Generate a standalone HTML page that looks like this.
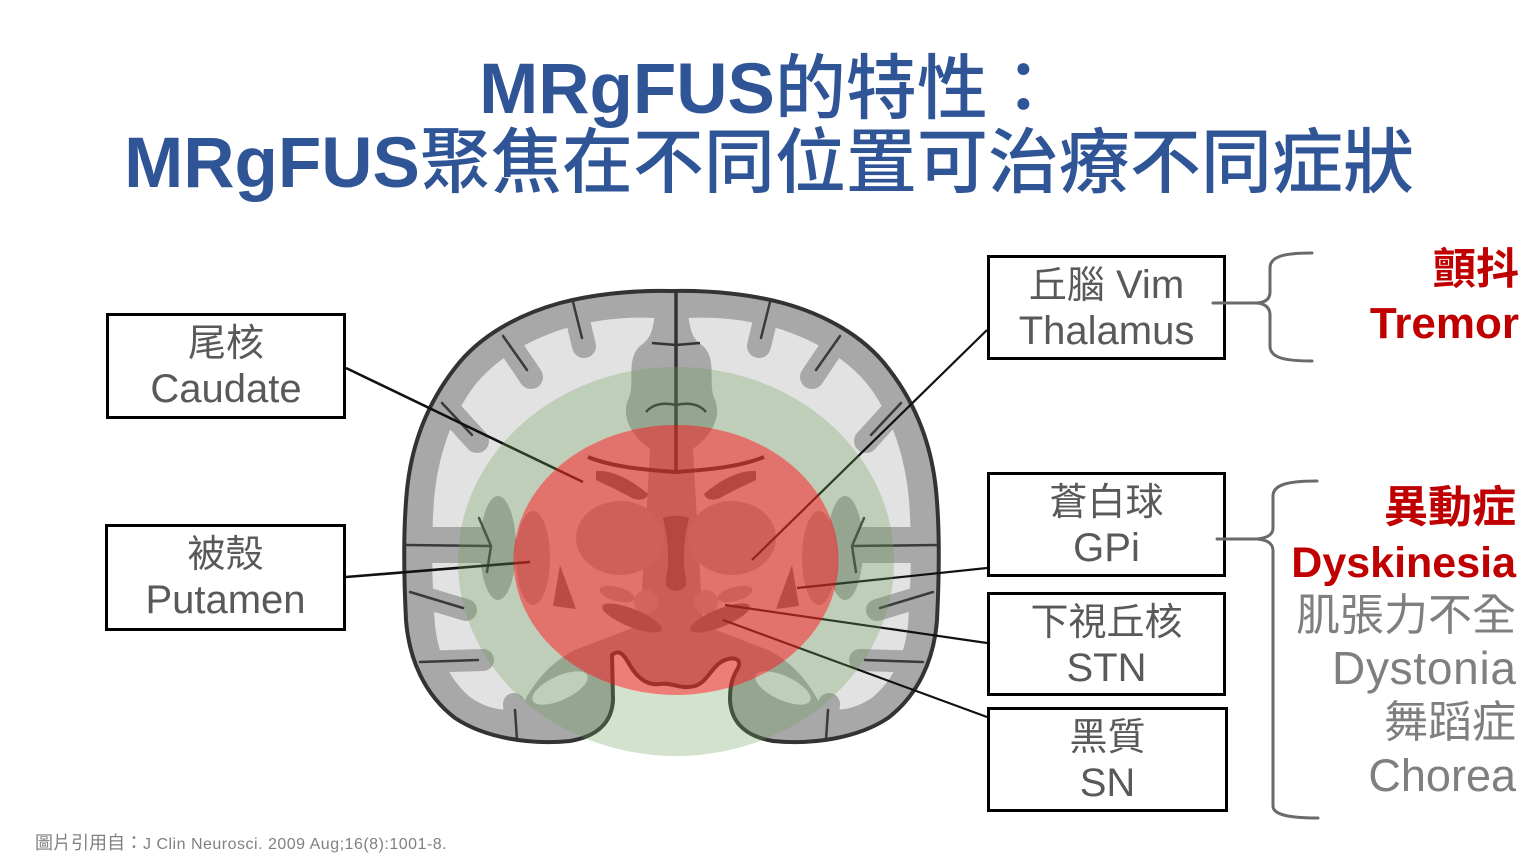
<!DOCTYPE html>
<html>
<head>
<meta charset="utf-8">
<style>
  html, body { margin:0; padding:0; background:#ffffff; }
  body { width:1536px; height:864px; position:relative; overflow:hidden; }
  svg text { font-family: "Liberation Sans", "Noto Sans CJK TC", sans-serif; }
</style>
</head>
<body>
<svg width="1536" height="864" viewBox="0 0 1536 864" xmlns="http://www.w3.org/2000/svg" style="position:absolute;left:0;top:0">
<defs>
  <path id="ol" d="M 671.5 291 C 630 290 590 295 560 303 C 520 314 480 335 455 368 C 430 400 412 440 407 490 C 403 530 404 580 406 620 C 409 660 425 695 455 718 C 485 738 530 745 570 741 C 600 736 612 720 613 700 L 612 655 C 618 650 622 652 628 662 C 635 675 645 686 660 684 C 672 682 680 690 695 686 C 708 682 712 665 725 660 C 735 656 742 660 738 668 C 732 678 730 685 730 700 C 731 720 743 736 773 741 C 813 745 858 738 888 718 C 918 695 934 660 937 620 C 939 580 940 530 936 490 C 931 440 913 400 888 368 C 863 335 823 314 783 303 C 753 295 713 290 671.5 291 Z"/>
  <clipPath id="bc"><use href="#ol"/></clipPath>
  <g id="lh">
    <path fill="#e2e2e2" d="M 655 318 C 620 316 585 322 560 330 C 525 342 495 360 475 385 C 452 415 438 455 434 500 C 431 540 432 585 435 625 C 438 655 450 680 470 697 C 488 710 510 713 522 706 C 530 690 545 665 575 650 L 640 625 L 650 450 Z"/>
    <ellipse cx="560" cy="688" rx="30" ry="12" transform="rotate(-25 560 688)" fill="#e2e2e2"/>
    <path fill="#a8a8a8" d="M 672 300 L 660 304 C 650 318 658 334 640 346 C 625 360 636 384 628 400 C 620 420 636 440 652 450 L 672 452 Z"/>
    <ellipse cx="498" cy="548" rx="18" ry="52" fill="#a8a8a8"/>
    <g stroke="#a8a8a8" stroke-linecap="round" fill="none">
      <line x1="572" y1="296" x2="584" y2="346" stroke-width="24"/>
      <line x1="498" y1="328" x2="531" y2="377" stroke-width="24"/>
      <line x1="436" y1="396" x2="477" y2="441" stroke-width="24"/>
      <line x1="404" y1="545" x2="500" y2="545" stroke-width="36"/>
      <line x1="406" y1="592" x2="466" y2="610" stroke-width="22"/>
      <line x1="416" y1="662" x2="483" y2="660" stroke-width="22"/>
      <line x1="518" y1="745" x2="514" y2="704" stroke-width="22"/>
    </g>
    <g stroke="#3a3a3a" stroke-linecap="round" fill="none" stroke-width="2.5">
      <path d="M 573 302 L 582 338"/>
      <path d="M 503 336 L 527 370"/>
      <path d="M 442 403 L 472 435"/>
      <path d="M 406 545 L 491 546 M 491 546 L 479 518 M 491 546 L 487 572"/>
      <path d="M 410 592 L 463 608"/>
      <path d="M 420 662 L 478 660"/>
      <path d="M 517 740 L 515 710"/>
    </g>
  </g>
  <g id="dl">
    <ellipse cx="620" cy="538" rx="44" ry="37" fill="#b0b0b0"/>
    <ellipse cx="533" cy="558" rx="17" ry="47" fill="#b0b0b0"/>
    <path d="M 596 471 C 612 470 632 480 648 494 C 646 500 640 501 632 498 C 618 490 604 484 596 480 Z" fill="#707070"/>
    <polygon points="560,565 553,606 576,609" fill="#7a7a7a"/>
    <ellipse cx="617" cy="594" rx="18" ry="7" transform="rotate(15 617 594)" fill="#b0b0b0"/>
    <circle cx="646" cy="602" r="12" fill="#bcbcbc"/>
    <ellipse cx="632" cy="618" rx="32" ry="9" transform="rotate(22 632 618)" fill="#7a7a7a"/>
    <path d="M 588 457 C 615 468 650 470 676 472" stroke="#333" stroke-width="4" fill="none"/>
    <path d="M 676 345 L 652 343 M 676 405 C 662 402 652 405 646 412" stroke="#333" stroke-width="2.5" fill="none"/>
  </g>
</defs>

<!-- brain base -->
<use href="#ol" fill="#a8a8a8"/>
<g clip-path="url(#bc)">
  <use href="#lh"/>
  <use href="#lh" transform="translate(1343,0) scale(-1,1)"/>
  <use href="#dl"/>
  <use href="#dl" transform="translate(1352,0) scale(-1,1)"/>
  <path d="M 663 518 C 670 515 682 515 689 518 C 684 540 682 560 686 578 C 690 595 662 595 666 578 C 670 560 668 540 663 518 Z" fill="#707070"/>
  <path d="M 676 291 L 676 472" stroke="#333" stroke-width="3.5"/>
</g>
<use href="#ol" fill="none" stroke="#333" stroke-width="4"/>

<!-- connectors (under overlays) -->
<g stroke="#111" fill="none">
  <line x1="346" y1="368" x2="583" y2="482" stroke-width="2.6"/>
  <line x1="346" y1="577" x2="530" y2="562" stroke-width="2.6"/>
  <line x1="987" y1="330" x2="752" y2="560" stroke-width="2.2"/>
  <line x1="987" y1="568" x2="797" y2="588" stroke-width="2.2"/>
  <line x1="987" y1="643" x2="725" y2="605" stroke-width="2.2"/>
  <line x1="987" y1="717" x2="723" y2="620" stroke-width="2.2"/>
</g>

<!-- overlays -->
<path fill="rgb(108,158,85)" fill-opacity="0.3" fill-rule="evenodd" d="M 458 561.5 A 218 194.5 0 1 0 894 561.5 A 218 194.5 0 1 0 458 561.5 Z M 513.5 560 A 162.5 135 0 1 0 838.5 560 A 162.5 135 0 1 0 513.5 560 Z"/>
<ellipse cx="676" cy="560" rx="162.5" ry="135" fill="rgb(225,45,35)" fill-opacity="0.62"/>

<!-- boxes -->
<g fill="none" stroke="#000" stroke-width="3">
  <rect x="107.5" y="314.5" width="237" height="103"/>
  <rect x="106.5" y="525.5" width="238" height="104"/>
  <rect x="988.5" y="256.5" width="236" height="102"/>
  <rect x="988.5" y="473.5" width="236" height="102"/>
  <rect x="988.5" y="593.5" width="236" height="101"/>
  <rect x="988.5" y="708.5" width="238" height="102"/>
</g>

<!-- braces -->
<g fill="none" stroke="#6a6a6a" stroke-width="3" stroke-linecap="round">
  <path d="M 1312 253 C 1285 253 1270 256 1270 268 L 1270 292 C 1270 300 1264 303 1255 303 C 1264 303 1270 307 1270 315 L 1270 346 C 1270 358 1285 361 1312 361"/>
  <path d="M 1213 303 L 1256 303"/>
  <path d="M 1317 481 C 1290 481 1273 484 1273 496 L 1273 528 C 1273 535 1267 538 1257 539 C 1267 540 1273 543 1273 551 L 1273 806 C 1273 815 1290 818 1318 818"/>
  <path d="M 1217 539 L 1258 539"/>
</g>

<!-- title -->
<text x="769" y="113" text-anchor="middle" font-size="71" fill="#2f5597"><tspan font-weight="bold">MRgFUS</tspan><tspan font-weight="500">的特性：</tspan></text>
<text x="769" y="187" text-anchor="middle" font-size="71" fill="#2f5597"><tspan font-weight="bold">MRgFUS</tspan><tspan font-weight="500">聚焦在不同位置可治療不同症狀</tspan></text>

<!-- box labels -->
<g fill="#595959" text-anchor="middle">
  <text x="226" y="356" font-size="38">尾核</text>
  <text x="226" y="402" font-size="40">Caudate</text>
  <text x="225.5" y="567" font-size="38">被殼</text>
  <text x="225.5" y="613" font-size="40">Putamen</text>
  <text x="1106.5" y="298"><tspan font-size="38">丘腦</tspan><tspan font-size="40"> Vim</tspan></text>
  <text x="1106.5" y="344" font-size="40">Thalamus</text>
  <text x="1106.5" y="515" font-size="38">蒼白球</text>
  <text x="1106.5" y="561" font-size="40">GPi</text>
  <text x="1106.5" y="635" font-size="38">下視丘核</text>
  <text x="1106.5" y="681" font-size="40">STN</text>
  <text x="1107.5" y="750" font-size="38">黑質</text>
  <text x="1107.5" y="796" font-size="40">SN</text>
</g>

<!-- right side symptoms -->
<g text-anchor="end">
  <text x="1519" y="284" font-size="43" font-weight="bold" fill="#c00000">顫抖</text>
  <text x="1519" y="338" font-size="44" font-weight="bold" fill="#c00000">Tremor</text>
  <text x="1516" y="522" font-size="44" font-weight="bold" fill="#c00000">異動症</text>
  <text x="1516" y="577" font-size="43" font-weight="bold" fill="#c00000">Dyskinesia</text>
  <text x="1516" y="630" font-size="44" fill="#7f7f7f">肌張力不全</text>
  <text x="1516" y="684" font-size="46" fill="#7f7f7f" textLength="184" lengthAdjust="spacing">Dystonia</text>
  <text x="1516" y="737" font-size="44" fill="#7f7f7f">舞蹈症</text>
  <text x="1516" y="791" font-size="45" fill="#7f7f7f">Chorea</text>
</g>

<!-- footer -->
<text x="35" y="849" fill="#808080"><tspan font-size="18">圖片引用自：</tspan><tspan font-size="16" letter-spacing="0.5">J Clin Neurosci. 2009 Aug;16(8):1001-8.</tspan></text>
</svg>
</body>
</html>
